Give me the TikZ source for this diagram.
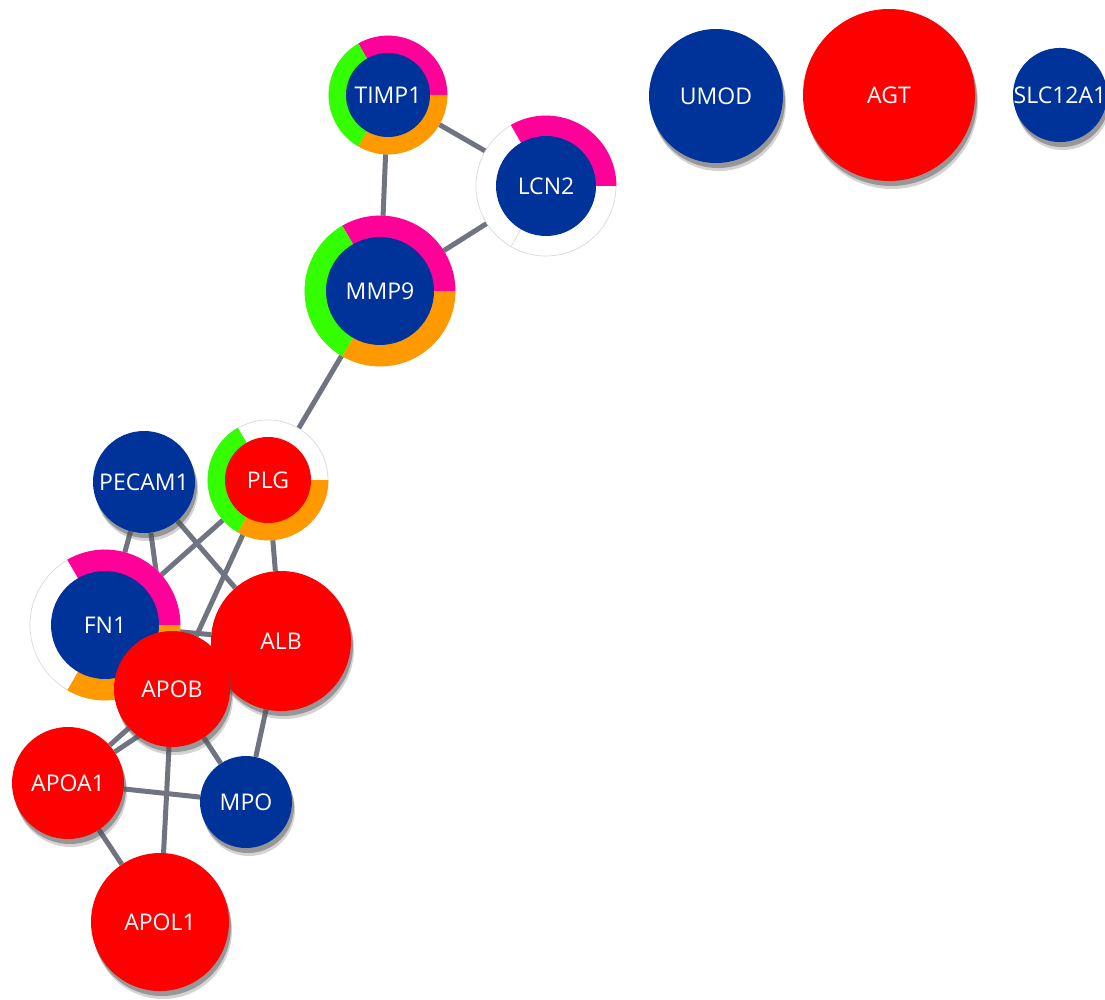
\documentclass[tikz,border=0pt]{standalone}
\usepackage{fontspec}
\setmainfont{Open Sans}
\usetikzlibrary{shadows}
\definecolor{nblue}{HTML}{003399}
\definecolor{nred}{HTML}{FF0000}
\definecolor{npink}{HTML}{FF0099}
\definecolor{ngreen}{HTML}{33FF00}
\definecolor{norange}{HTML}{FF9900}
\definecolor{edgegray}{HTML}{6F7480}
\definecolor{ringline}{HTML}{DADADA}
\definecolor{shadowgray}{HTML}{505050}
\pgfdeclarelayer{paper}
\pgfdeclarelayer{edges}
\pgfsetlayers{paper,edges,main}
\newcommand\ringslice[5]{\fill[#5] (#1) -- ++(#2:#4) arc[start angle=#2, end angle=#3, radius=#4] -- cycle;}
\tikzset{
  gene/.style={circle, inner sep=0pt, text=white, font=\fontsize{23}{27}\selectfont},
  bluegene/.style={gene, fill=nblue},
  redgene/.style={gene, fill=nred},
  shad/.style={
    drop shadow={shadow xshift=3pt, shadow yshift=-8pt, fill=shadowgray, opacity=0.25},
    drop shadow={shadow xshift=2pt, shadow yshift=-5pt, fill=shadowgray, opacity=0.45}},
  link/.style={draw=edgegray, line width=5pt},
  ringbase/.style={circle, inner sep=0pt, fill=white, draw=ringline, line width=0.7pt},
}
\begin{document}
\begin{tikzpicture}[x=1pt, y=-1pt]
\useasboundingbox (0,0) rectangle (1105,1000);
\clip (0,0) rectangle (1105,1000);
\begin{pgfonlayer}{paper}
\fill[white] (0,0) rectangle (1105,1000);
\end{pgfonlayer}

% ---- ring nodes ----
% TIMP1
\coordinate (timp1c) at (388,95);
\node[ringbase, minimum size=118pt] (timp1ring) at (timp1c) {};
\ringslice{timp1c}{240}{360}{59.4}{npink}
\ringslice{timp1c}{120}{240}{59.4}{ngreen}
\ringslice{timp1c}{0}{120}{59.4}{norange}
\node[bluegene, minimum size=84pt] (timp1) at (timp1c) {TIMP1};

% LCN2
\coordinate (lcn2c) at (546,186);
\node[ringbase, minimum size=140pt] (lcn2ring) at (lcn2c) {};
\draw[ringline, line width=0.7pt] (lcn2c) -- ++(120:70);
\ringslice{lcn2c}{240}{360}{70.4}{npink}
\node[bluegene, minimum size=100pt] (lcn2) at (lcn2c) {LCN2};

% MMP9
\coordinate (mmp9c) at (380,291);
\node[ringbase, minimum size=150pt] (mmp9ring) at (mmp9c) {};
\ringslice{mmp9c}{240}{360}{75.4}{npink}
\ringslice{mmp9c}{120}{240}{75.4}{ngreen}
\ringslice{mmp9c}{0}{120}{75.4}{norange}
\node[bluegene, minimum size=108pt] (mmp9) at (mmp9c) {MMP9};

% PLG
\coordinate (plgc) at (268,480);
\node[ringbase, minimum size=120pt] (plgring) at (plgc) {};
\ringslice{plgc}{120}{240}{60.4}{ngreen}
\ringslice{plgc}{0}{120}{60.4}{norange}
\node[redgene, minimum size=86pt] (plg) at (plgc) {PLG};

% PECAM1
\node[bluegene, shad, minimum size=102pt] (pecam1) at (144,482) {PECAM1};

% FN1
\coordinate (fn1c) at (105,625);
\node[ringbase, minimum size=150pt] (fn1ring) at (fn1c) {};
\ringslice{fn1c}{240}{360}{75.4}{npink}
\ringslice{fn1c}{0}{120}{75.4}{norange}
\node[bluegene, minimum size=108pt] (fn1) at (fn1c) {FN1};

% plain nodes
\node[redgene, shad, minimum size=140pt] (alb) at (281,641) {ALB};
\node[redgene, shad, minimum size=116pt] (apob) at (172,689) {APOB};
\node[redgene, shad, minimum size=112pt] (apoa1) at (68,783) {APOA1};
\node[bluegene, shad, minimum size=92pt] (mpo) at (246,802) {MPO};
\node[redgene, shad, minimum size=138pt] (apol1) at (160,922) {APOL1};

\node[bluegene, shad, minimum size=134pt] (umod) at (716,96) {UMOD};
\node[redgene, shad, minimum size=172pt] (agt) at (889,95) {AGT};
\node[bluegene, shad, minimum size=84pt] (slc) at (1060,95) {SLC12A1};

% ---- edges ----
\begin{pgfonlayer}{edges}
\draw[link] (timp1) -- (lcn2);
\draw[link] (timp1) -- (mmp9);
\draw[link] (lcn2) -- (mmp9);
\draw[link] (mmp9) -- (plg);
\draw[link] (pecam1) -- (fn1);
\draw[link] (pecam1) -- (apob);
\draw[link] (pecam1) -- (alb);
\draw[link] (plg) -- (fn1);
\draw[link] (plg) -- (apob);
\draw[link] (plg) -- (alb);
\draw[link] (fn1) -- (alb);
\draw[link] (alb) -- (mpo);
\draw[link] (apoa1) -- (apob);
\draw[link] (apoa1) -- (alb);
\draw[link] (apob) -- (mpo);
\draw[link] (apob) -- (apol1);
\draw[link] (apoa1) -- (mpo);
\draw[link] (apoa1) -- (apol1);
\end{pgfonlayer}
\end{tikzpicture}
\end{document}
